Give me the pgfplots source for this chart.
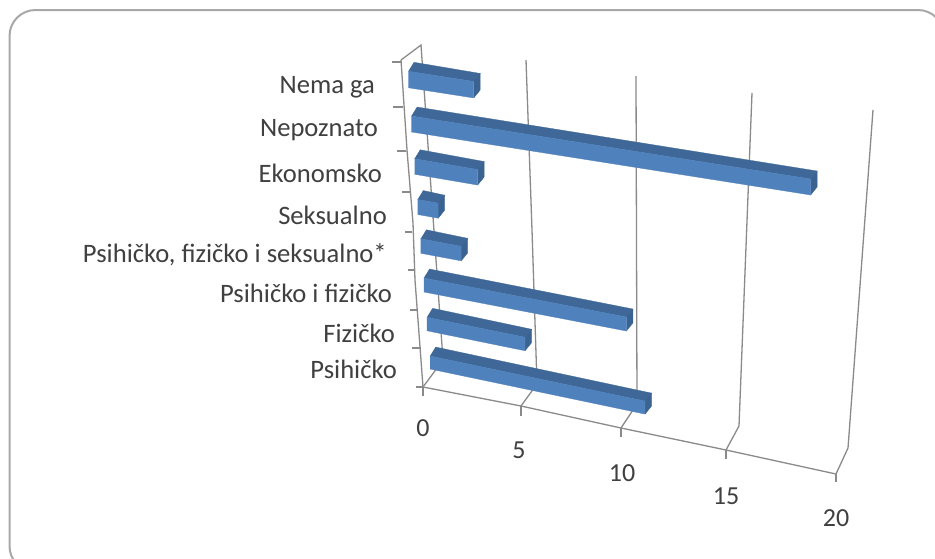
\documentclass[border=0pt]{standalone}
\usepackage{pgfplots}
\pgfplotsset{compat=1.18}
\usepackage{pgfplotstable}
\usepackage{fontspec}
\setmainfont{Carlito}
\definecolor{barfront}{HTML}{4F81BD}
\definecolor{bartop}{HTML}{3F6898}
\definecolor{barend}{HTML}{3A6391}
\definecolor{gridc}{HTML}{8A8A8A}
\definecolor{framec}{HTML}{A8A8A8}

% k = category position from the bottom, value = bar length,
% ypos = picture row of the left end of the bar
\pgfplotstableread{
k value ypos
0 11 362.5
1 5 324
2 10 285
3 2 246
4 1 207
5 3 166.5
6 18 124
7 3 79.5
}\bars

% the chart is a 3D perspective bar chart, so the axis works in picture pixels
% and each bar is projected from (value, k)
\newcommand{\drawbar}[3]{%
  \pgfmathsetmacro\lx{430-3.1*#1}%
  \pgfmathsetmacro\ly{#3}%
  \pgfmathsetmacro\rx{\lx+#2*(19+0.05*#2+0.38*#1)}%
  \pgfmathsetmacro\ry{\ly+#2*(4.1-0.1*#1)}%
  \pgfmathsetmacro\hh{6.5+0.25*#1}%
  \pgfmathsetmacro\lt{\ly-\hh}\pgfmathsetmacro\lb{\ly+\hh}%
  \pgfmathsetmacro\rt{\ry-\hh}\pgfmathsetmacro\rb{\ry+\hh}%
  \pgfmathsetmacro\blx{\lx+5.5}\pgfmathsetmacro\brx{\rx+6.5}%
  \pgfmathsetmacro\blt{\lt-9}\pgfmathsetmacro\brt{\rt-8}\pgfmathsetmacro\brb{\rb-8}%
  \edef\temp{%
    \noexpand\addplot[fill=bartop,draw=bartop,line width=0.3pt,forget plot]
      coordinates {(\lx,\lt)(\rx,\rt)(\brx,\brt)(\blx,\blt)};
    \noexpand\addplot[fill=barend,draw=barend,line width=0.3pt,forget plot]
      coordinates {(\rx,\rt)(\brx,\brt)(\brx,\brb)(\rx,\rb)};
    \noexpand\addplot[fill=barfront,draw=barfront,line width=0.3pt,forget plot]
      coordinates {(\lx,\lt)(\rx,\rt)(\rx,\rb)(\lx,\lb)};
  }\temp
}

\tikzset{
  cl/.style={anchor=east,inner sep=0pt,text=black!75,font=\fontsize{26.6}{26.6}\selectfont},
  vl/.style={inner sep=0pt,text=black!75,font=\fontsize{26}{26}\selectfont},
}

\begin{document}
\begin{tikzpicture}
\begin{axis}[
    scale only axis,
    width=935pt, height=558pt,
    xmin=0, xmax=935, ymin=0, ymax=558,
    y dir=reverse,
    hide axis,
    clip=false,
    every axis plot/.append style={no markers},
    gl/.style={gridc,line width=1.3pt,forget plot},
]
\path[fill=white] (axis cs:0,0) rectangle (axis cs:935,558);
% the frame runs off the right and bottom of the picture
\begin{scope}
\clip (axis cs:0,0) rectangle (axis cs:935,558);
\draw[framec,line width=2pt,rounded corners=26pt] (axis cs:9.5,10) rectangle (axis cs:944,572);
\end{scope}

% walls and gridlines
\addplot[gl] coordinates {(401,60)(421,45)(443,360)(423,387)};
\addplot[gl] coordinates {(401,60)(407,150)(413,223)(415,280)(423,387)};
\addplot[gl] coordinates {(526,60)(532,230)(537,384)(521,406)};
\addplot[gl] coordinates {(636,76)(637,404)(621,428)};
\addplot[gl] coordinates {(752,93)(739,426)(726,450)};
\addplot[gl] coordinates {(873,110)(848,448)(836,474)};
\addplot[gl] coordinates {(423,387)(521,406)(621,428)(726,450)(836,474)};
% x ticks
\addplot[gl] coordinates {(423,387)(423,396)};
\addplot[gl] coordinates {(521,406)(521,416)};
\addplot[gl] coordinates {(621,428)(621,437)};
\addplot[gl] coordinates {(726,450)(726,459)};
\addplot[gl] coordinates {(836,474)(836,482)};
% y ticks
\addplot[gl] coordinates {(392,62)(401,62)};
\addplot[gl] coordinates {(393,107)(403,107)};
\addplot[gl] coordinates {(397,151)(406,151)};
\addplot[gl] coordinates {(402,192)(410,192)};
\addplot[gl] coordinates {(405,232)(412,232)};
\addplot[gl] coordinates {(408,270)(415,270)};
\addplot[gl] coordinates {(410,310)(418,310)};
\addplot[gl] coordinates {(412,348)(421,348)};
\addplot[gl] coordinates {(416,387)(423,387)};

% bars, back to front
\pgfplotsinvokeforeach{7,6,5,4,3,2,1,0}{
  \pgfplotstablegetelem{#1}{value}\of\bars
  \let\val\pgfplotsretval
  \pgfplotstablegetelem{#1}{ypos}\of\bars
  \let\ypos\pgfplotsretval
  \drawbar{#1}{\val}{\ypos}
}

% category labels
\node[cl] at (axis cs:375,87) {Nema ga};
\node[cl] at (axis cs:378,130) {Nepoznato};
\node[cl] at (axis cs:382,173) {Ekonomsko};
\node[cl] at (axis cs:387,215) {Seksualno};
\node[cl] at (axis cs:387,255) {Psihičko, fizičko i seksualno*};
\node[cl] at (axis cs:392,293) {Psihičko i fizičko};
\node[cl] at (axis cs:395,333) {Fizičko};
\node[cl] at (axis cs:397,369) {Psihičko};
% value labels
\node[vl] at (axis cs:423,428) {0};
\node[vl] at (axis cs:519,450) {5};
\node[vl] at (axis cs:622,473) {10};
\node[vl] at (axis cs:726,496) {15};
\node[vl] at (axis cs:836,518) {20};
\end{axis}
\end{tikzpicture}
\end{document}
